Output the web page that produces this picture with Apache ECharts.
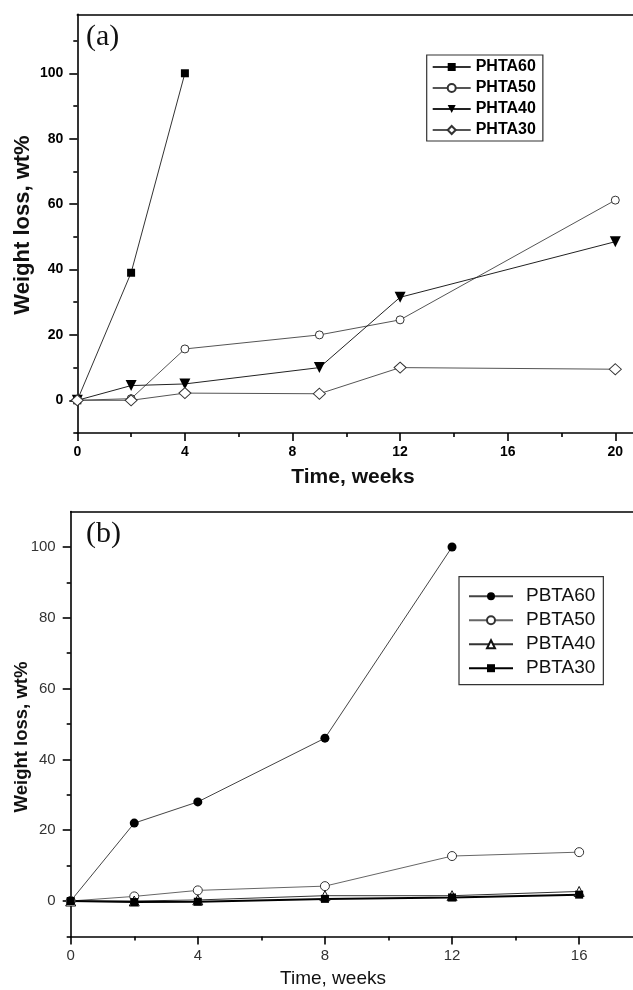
<!DOCTYPE html>
<html>
<head>
<meta charset="utf-8">
<script src="https://cdn.jsdelivr.net/npm/echarts@6/dist/echarts.min.js"></script>
<style>
html,body{margin:0;padding:0;background:#fff;}
#c{width:633px;height:990px;}
</style>
</head>
<body>
<div id="c"></div>
<script>
// ---- Data: panel (a) ----
const weeksA = [0, 2, 4, 9, 12, 20];
const phta60 = [0, 39, 100];
const phta50 = [0, 0.5, 15.7, 20, 24.6, 61.2];
const phta40 = [0, 4.5, 5, 10, 31.5, 48.5];
const phta30 = [0, 0, 2.2, 2, 10, 9.5];
const namesA = ['PHTA60', 'PHTA50', 'PHTA40', 'PHTA30'];
const yMajorA = [0, 20, 40, 60, 80, 100];
const yMinorA = [-10, 10, 30, 50, 70, 90, 110];

// ---- Data: panel (b) ----
const weeksB = [0, 2, 4, 8, 12, 16];
const pbta60 = [0, 22, 28, 46, 100];
const pbta50 = [0, 1.3, 3, 4.2, 12.7, 13.8];
const pbta40 = [0, 0, 0.3, 1.5, 1.5, 2.7];
const pbta30 = [0, -0.3, -0.2, 0.6, 1, 1.8];
const namesB = ['PBTA60', 'PBTA50', 'PBTA40', 'PBTA30'];
const yMajorB = [0, 20, 40, 60, 80, 100];
const yMinorB = [-10, 10, 30, 50, 70, 90];

function pairs(xs, ys) { return ys.map((v, i) => [xs[i], v]); }

const chart = echarts.init(document.getElementById('c'), null, {renderer: 'canvas'});

const axisBlack = {color: '#000', width: 1.6};
const fontA = {fontFamily: 'Liberation Sans', fontWeight: 'bold', fontSize: 14, color: '#000'};
const fontB = {fontFamily: 'Liberation Sans', fontWeight: 'normal', fontSize: 15, color: '#333'};

const option = {
  animation: false,
  backgroundColor: '#fff',
  grid: [
    {left: 77.3, top: 14.4, width: 591.8, height: 418.6, outerBoundsMode: 'none'},
    {left: 70.7, top: 511.6, width: 572, height: 424.8, outerBoundsMode: 'none'}
  ],
  xAxis: [
    {gridIndex: 0, type: 'value', min: 0, max: 22, interval: 4, position: 'bottom',
     axisLine: {show: true, onZero: false, lineStyle: axisBlack},
     axisTick: {show: true, inside: false, length: 8, lineStyle: axisBlack},
     minorTick: {show: true, splitNumber: 2, length: 4, lineStyle: axisBlack},
     axisLabel: Object.assign({margin: 12}, fontA),
     splitLine: {show: false}, minorSplitLine: {show: false}},
    {gridIndex: 0, type: 'value', min: 0, max: 22, position: 'top',
     axisLine: {show: true, onZero: false, lineStyle: axisBlack},
     axisTick: {show: false}, axisLabel: {show: false}, splitLine: {show: false}},
    {gridIndex: 1, type: 'value', min: 0, max: 18, interval: 4, position: 'bottom',
     axisLine: {show: true, onZero: false, lineStyle: axisBlack},
     axisTick: {show: true, inside: false, length: 8, lineStyle: axisBlack},
     minorTick: {show: true, splitNumber: 2, length: 4, lineStyle: axisBlack},
     axisLabel: Object.assign({margin: 12}, fontB),
     splitLine: {show: false}, minorSplitLine: {show: false}},
    {gridIndex: 1, type: 'value', min: 0, max: 18, position: 'top',
     axisLine: {show: true, onZero: false, lineStyle: axisBlack},
     axisTick: {show: false}, axisLabel: {show: false}, splitLine: {show: false}}
  ],
  yAxis: [
    {gridIndex: 0, type: 'value', min: -10, max: 118, position: 'left',
     axisLine: {show: true, onZero: false, lineStyle: axisBlack},
     axisTick: {show: true, length: 8, customValues: yMajorA, lineStyle: axisBlack},
     axisLabel: Object.assign({margin: 14, customValues: yMajorA}, fontA),
     splitLine: {show: false}},
    {gridIndex: 0, type: 'value', min: -10, max: 118, position: 'left',
     axisLine: {show: false},
     axisTick: {show: true, length: 4, customValues: yMinorA, lineStyle: axisBlack},
     axisLabel: {show: false}, splitLine: {show: false}},
    {gridIndex: 1, type: 'value', min: -10, max: 110, position: 'left',
     axisLine: {show: true, onZero: false, lineStyle: axisBlack},
     axisTick: {show: true, length: 8, customValues: yMajorB, lineStyle: axisBlack},
     axisLabel: Object.assign({margin: 15, customValues: yMajorB}, fontB),
     splitLine: {show: false}},
    {gridIndex: 1, type: 'value', min: -10, max: 110, position: 'left',
     axisLine: {show: false},
     axisTick: {show: true, length: 4, customValues: yMinorB, lineStyle: axisBlack},
     axisLabel: {show: false}, splitLine: {show: false}}
  ],
  legend: [
    {data: namesA, orient: 'vertical', left: 426.7, top: 55,
     padding: [4, 7, 3, 5], itemGap: 5, itemWidth: 38, itemHeight: 10,
     borderColor: '#333', borderWidth: 1.2, backgroundColor: '#fff',
     textStyle: {fontFamily: 'Liberation Sans', fontWeight: 'bold', fontSize: 16, color: '#000', lineHeight: 16}},
    {data: namesB, orient: 'vertical', left: 459, top: 576.7,
     padding: [10, 8, 7, 9], itemGap: 5, itemWidth: 44, itemHeight: 10,
     borderColor: '#333', borderWidth: 1.2, backgroundColor: '#fff',
     textStyle: {fontFamily: 'Liberation Sans', fontWeight: 'normal', fontSize: 19, color: '#111', lineHeight: 19, padding: [0, 0, 0, 8]}}
  ],
  graphic: [
    {type: 'text', left: 86, top: 22, style: {text: '(a)', font: '30px "Liberation Serif"', fill: '#111'}},
    {type: 'text', left: 86, top: 519, style: {text: '(b)', font: '30px "Liberation Serif"', fill: '#111'}},
    {type: 'text', x: 353, y: 477, style: {text: 'Time, weeks', font: 'bold 21px "Liberation Sans"', fill: '#111', align: 'center', verticalAlign: 'middle'}},
    {type: 'text', x: 23, y: 225, rotation: Math.PI / 2, style: {text: 'Weight loss, wt%', font: 'bold 22px "Liberation Sans"', fill: '#111', align: 'center', verticalAlign: 'middle'}},
    {type: 'text', x: 333, y: 979, style: {text: 'Time, weeks', font: '19px "Liberation Sans"', fill: '#111', align: 'center', verticalAlign: 'middle'}},
    {type: 'text', x: 22, y: 737, rotation: Math.PI / 2, style: {text: 'Weight loss, wt%', font: 'bold 18.5px "Liberation Sans"', fill: '#111', align: 'center', verticalAlign: 'middle'}}
  ],
  series: [
    {name: 'PHTA60', type: 'line', xAxisIndex: 0, yAxisIndex: 0, data: pairs(weeksA, phta60),
     symbol: 'rect', symbolSize: 8, lineStyle: {color: '#333', width: 1},
     itemStyle: {color: '#000', borderColor: '#000', borderWidth: 0}},
    {name: 'PHTA50', type: 'line', xAxisIndex: 0, yAxisIndex: 0, data: pairs(weeksA, phta50),
     symbol: 'circle', symbolSize: 8, lineStyle: {color: '#555', width: 1},
     itemStyle: {color: '#fff', borderColor: '#333', borderWidth: 1}},
    {name: 'PHTA40', type: 'line', xAxisIndex: 0, yAxisIndex: 0, data: pairs(weeksA, phta40),
     symbol: 'triangle', symbolRotate: 180, symbolSize: 11, lineStyle: {color: '#222', width: 1},
     itemStyle: {color: '#000', borderColor: '#000', borderWidth: 0}},
    {name: 'PHTA30', type: 'line', xAxisIndex: 0, yAxisIndex: 0, data: pairs(weeksA, phta30),
     symbol: 'diamond', symbolSize: [12, 11], lineStyle: {color: '#555', width: 1},
     itemStyle: {color: '#fff', borderColor: '#333', borderWidth: 1}},

    {name: 'PBTA60', type: 'line', xAxisIndex: 2, yAxisIndex: 2, data: pairs(weeksB, pbta60),
     symbol: 'circle', symbolSize: 9, lineStyle: {color: '#444', width: 1},
     itemStyle: {color: '#000', borderColor: '#000', borderWidth: 0}},
    {name: 'PBTA50', type: 'line', xAxisIndex: 2, yAxisIndex: 2, data: pairs(weeksB, pbta50),
     symbol: 'circle', symbolSize: 9, lineStyle: {color: '#666', width: 1},
     itemStyle: {color: '#fff', borderColor: '#333', borderWidth: 1}},
    {name: 'PBTA40', type: 'line', xAxisIndex: 2, yAxisIndex: 2, data: pairs(weeksB, pbta40),
     symbol: 'triangle', symbolSize: 10, lineStyle: {color: '#333', width: 1},
     itemStyle: {color: '#fff', borderColor: '#111', borderWidth: 1}},
    {name: 'PBTA30', type: 'line', xAxisIndex: 2, yAxisIndex: 2, data: pairs(weeksB, pbta30),
     symbol: 'rect', symbolSize: 8, lineStyle: {color: '#000', width: 2},
     itemStyle: {color: '#000', borderColor: '#000', borderWidth: 0}}
  ]
};
chart.setOption(option);
</script>
</body>
</html>
